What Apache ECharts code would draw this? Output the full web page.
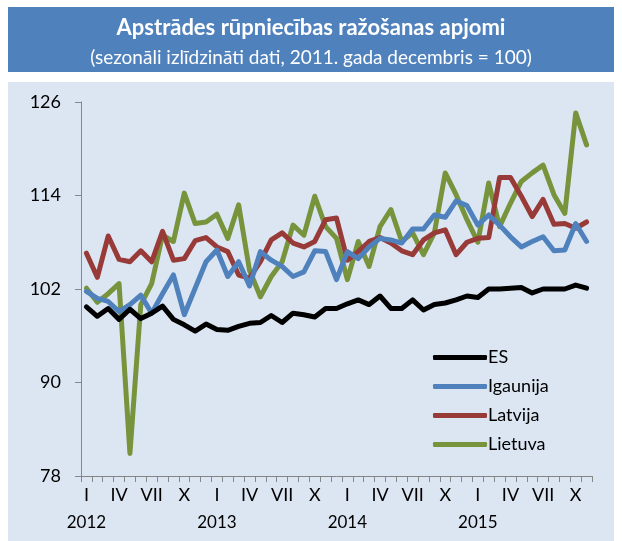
<!DOCTYPE html>
<html>
<head>
<meta charset="utf-8">
<script src="https://cdn.jsdelivr.net/npm/echarts@6/dist/echarts.min.js"></script>
<style>
  html, body { margin: 0; padding: 0; background: #fff; }
  #chart { width: 622px; height: 541px; }
</style>
</head>
<body>
<div id="chart"></div>
<script>
// menesi un gadi (I 2012 .. XI 2015)
var months = ['I', 'II', 'III', 'IV', 'V', 'VI', 'VII', 'VIII', 'IX', 'X', 'XI', 'XII']
var years = ['2012', '2013', '2014', '2015']
var shownMonths = ['I', 'IV', 'VII', 'X']
var yTicks = [78, 90, 102, 114, 126]

var es = [99.7, 98.5, 99.5, 98.1, 99.4, 98.2, 98.9, 99.8, 98.1, 97.4, 96.6, 97.5,
  96.8, 96.7, 97.2, 97.6, 97.7, 98.6, 97.7, 98.9, 98.7, 98.4, 99.5, 99.5,
  100.1, 100.6, 100.0, 101.1, 99.5, 99.5, 100.6, 99.3, 100.0, 100.2, 100.6, 101.1,
  100.9, 102.0, 102.0, 102.1, 102.2, 101.5, 102.0, 102.0, 102.0, 102.5, 102.1]
var igaunija = [101.7, 100.8, 100.4, 99.1, 100.0, 101.2, 98.9, 101.4, 103.8, 98.7, 102.1, 105.5,
  107.0, 103.6, 105.5, 102.4, 106.8, 105.7, 104.9, 103.6, 104.2, 106.9, 106.8, 103.2,
  106.8, 105.9, 107.4, 108.5, 108.3, 107.9, 109.7, 109.7, 111.5, 111.2, 113.3, 112.7,
  110.2, 111.5, 110.2, 108.7, 107.4, 108.1, 108.7, 106.9, 107.0, 110.4, 108.1]
var latvija = [106.6, 103.5, 108.8, 105.8, 105.5, 106.9, 105.5, 109.4, 105.7, 105.9, 108.2, 108.6,
  107.4, 106.8, 103.8, 103.4, 105.5, 108.3, 109.2, 107.9, 107.4, 108.1, 110.9, 111.1,
  105.7, 106.8, 108.1, 108.6, 107.9, 106.9, 106.4, 108.3, 109.2, 109.6, 106.4, 108.0,
  108.5, 108.6, 116.3, 116.3, 113.9, 111.3, 113.5, 110.3, 110.4, 109.8, 110.6]
var lietuva = [102.1, 100.3, 101.4, 102.7, 80.9, 100.0, 102.7, 108.9, 108.1, 114.3, 110.4, 110.6,
  111.6, 108.5, 112.8, 104.4, 101.0, 103.6, 105.5, 110.2, 108.9, 113.9, 110.0, 108.5,
  103.2, 108.1, 104.9, 110.0, 112.2, 108.1, 109.2, 106.4, 109.2, 116.9, 114.1, 110.9,
  108.0, 115.6, 110.0, 113.0, 115.8, 116.9, 117.9, 114.1, 111.7, 124.6, 120.5]

var categories = []
years.forEach(function (y) {
  months.forEach(function (m) {
    if (categories.length < es.length) categories.push(m + ' ' + y)
  })
})

var fontName = 'Lato'
var axisGray = '#868686'

var myChart = echarts.init(document.getElementById('chart'))

function line (name, data, color) {
  return {
    name: name,
    type: 'line',
    data: data,
    symbol: 'none',
    lineStyle: { width: 5, color: color, join: 'round', cap: 'round' },
    itemStyle: { color: color }
  }
}

var option = {
  animation: false,
  textStyle: { fontFamily: fontName },
  graphic: [
    { type: 'rect', z: -10, shape: { x: 8, y: 7, width: 606, height: 65 }, style: { fill: '#4f81bd' } },
    { type: 'rect', z: -10, shape: { x: 8, y: 82, width: 606, height: 459 }, style: { fill: '#dce6f2' } }
  ],
  title: {
    text: 'Apstrādes rūpniecības ražošanas apjomi',
    subtext: '(sezonāli izlīdzināti dati, 2011. gada decembris = 100)',
    left: 'center',
    top: 12,
    itemGap: 9,
    textStyle: { color: '#fff', fontSize: 22, fontWeight: 'bold', fontFamily: fontName },
    subtextStyle: { color: '#fff', fontSize: 19, fontFamily: fontName }
  },
  legend: {
    orient: 'vertical',
    left: 428,
    top: 342,
    itemWidth: 54,
    itemHeight: 5,
    itemGap: 8,
    icon: 'roundRect',
    textStyle: { fontSize: 18, color: '#000', lineHeight: 21, padding: [0, 0, 0, -4] },
    data: ['ES', 'Igaunija', 'Latvija', 'Lietuva']
  },
  grid: { left: 81, right: 30, top: 102, bottom: 65 },
  xAxis: {
    type: 'category',
    data: categories,
    boundaryGap: true,
    axisLine: { lineStyle: { color: axisGray, width: 1 } },
    axisTick: { show: true, interval: 0, length: 6, lineStyle: { color: axisGray } },
    axisLabel: {
      interval: 0,
      margin: 8,
      color: '#000',
      formatter: function (value) {
        var parts = value.split(' ')
        if (shownMonths.indexOf(parts[0]) < 0) return ''
        if (parts[0] === 'I') return '{m|I}\n{y|' + parts[1] + '}'
        return '{m|' + parts[0] + '}'
      },
      rich: {
        m: { fontSize: 18, lineHeight: 22, color: '#000', fontFamily: fontName },
        y: { fontSize: 17, lineHeight: 34, color: '#000', fontFamily: fontName }
      }
    },
    splitLine: { show: false }
  },
  yAxis: {
    type: 'value',
    min: yTicks[0],
    max: yTicks[yTicks.length - 1],
    interval: yTicks[1] - yTicks[0],
    axisLine: { show: true, lineStyle: { color: axisGray, width: 1 } },
    axisTick: { show: true, length: 6, lineStyle: { color: axisGray } },
    axisLabel: { margin: 20, fontSize: 18, color: '#000' },
    splitLine: { show: false }
  },
  series: [
    line('Lietuva', lietuva, '#77933c'),
    line('Latvija', latvija, '#983a37'),
    line('Igaunija', igaunija, '#4f81bd'),
    line('ES', es, '#000000')
  ]
}
myChart.setOption(option)
</script>
</body>
</html>
